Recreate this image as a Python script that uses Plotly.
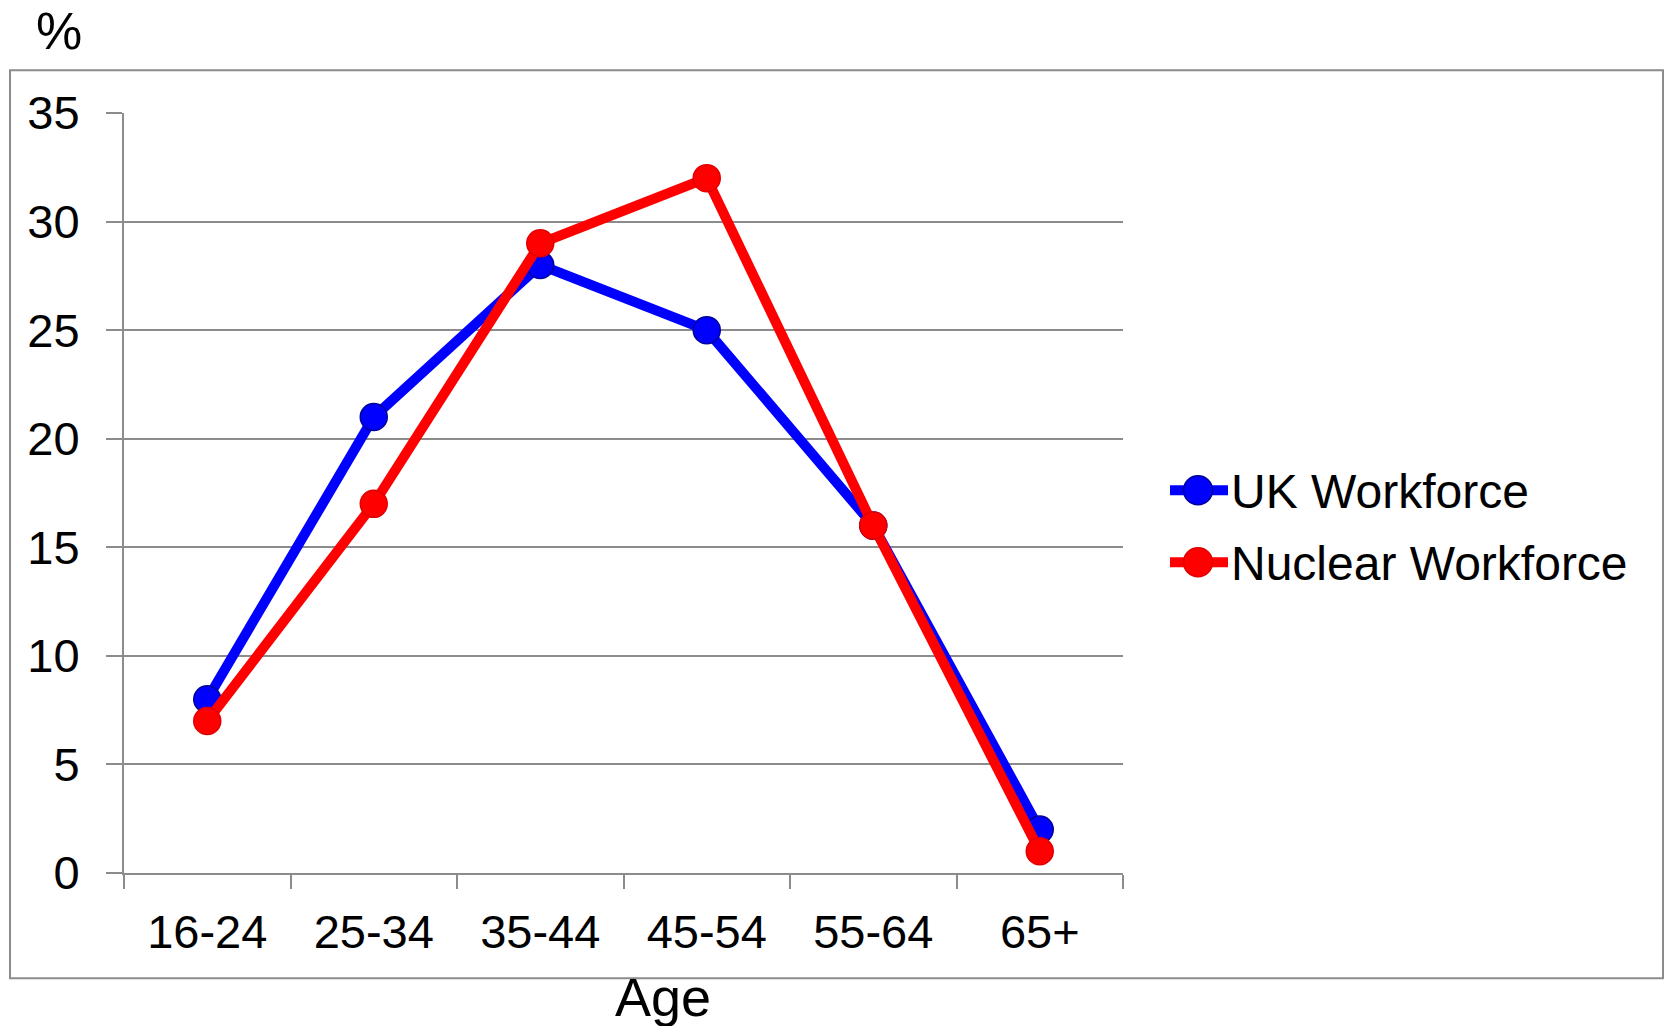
import plotly.graph_objects as go

categories = ["16-24", "25-34", "35-44", "45-54", "55-64", "65+"]
uk_workforce = [8, 21, 28, 25, 16, 2]
nuclear_workforce = [7, 17, 29, 32, 16, 1]
y_ticks = [0, 5, 10, 15, 20, 25, 30, 35]
series_names = ["UK Workforce", "Nuclear Workforce"]

W, H = 1666, 1026
L, R = 124, 1123
T, B = 112.7, 872.7

def px(x):
    return (x - L) / (R - L)

def py(y):
    return (B - y) / (B - T)

FONT = "Liberation Sans, Arial, sans-serif"
GRID = "#8c8c8c"
BLUE, BLUE_EDGE = "#0000ff", "#00009a"
RED, RED_EDGE = "#ff0000", "#e00000"
LINE_W = 10
MARKER = 27

fig = go.Figure()
fig.add_trace(go.Scatter(
    x=categories, y=uk_workforce, name=series_names[0], mode="lines+markers",
    line=dict(color=BLUE, width=LINE_W),
    marker=dict(size=MARKER, color=BLUE, line=dict(color=BLUE_EDGE, width=1.5)),
    showlegend=False,
))
fig.add_trace(go.Scatter(
    x=categories, y=nuclear_workforce, name=series_names[1], mode="lines+markers",
    line=dict(color=RED, width=LINE_W),
    marker=dict(size=MARKER, color=RED, line=dict(color=RED_EDGE, width=1.5)),
    showlegend=False,
))

shapes = [dict(type="rect", xref="paper", yref="paper",
               x0=px(10), x1=px(1663), y0=py(978), y1=py(70),
               line=dict(color=GRID, width=2), fillcolor="rgba(0,0,0,0)", layer="below")]
annotations = [
    dict(text="Age", xref="paper", yref="paper", x=px(663), y=py(997),
         xanchor="center", yanchor="middle", showarrow=False,
         font=dict(size=54, family=FONT, color="black")),
    dict(text="%", xref="paper", yref="paper", x=px(59), y=py(31),
         xanchor="center", yanchor="middle", showarrow=False,
         font=dict(size=52, family=FONT, color="black")),
]

# legend drawn by hand so the symbol keeps the chart's line/marker size
legend_rows = [(490, BLUE, BLUE_EDGE), (562, RED, RED_EDGE)]
for name, (ry, col, edge) in zip(series_names, legend_rows):
    shapes.append(dict(type="line", xref="paper", yref="paper",
                       x0=px(1170), x1=px(1228), y0=py(ry), y1=py(ry),
                       line=dict(color=col, width=LINE_W)))
    r = 14.5
    shapes.append(dict(type="circle", xref="paper", yref="paper",
                       x0=px(1198 - r), x1=px(1198 + r), y0=py(ry + r), y1=py(ry - r),
                       fillcolor=col, line=dict(color=edge, width=1.5)))
    annotations.append(dict(text=name, xref="paper", yref="paper",
                            x=px(1229), y=py(ry + 1), xanchor="left", yanchor="middle",
                            showarrow=False,
                            font=dict(size=48, family=FONT, color="black")))

fig.update_layout(
    width=W, height=H,
    margin=dict(l=L, r=W - R, t=T, b=H - B, autoexpand=False),
    paper_bgcolor="white", plot_bgcolor="white",
    font=dict(family=FONT, color="black", size=47),
    showlegend=False,
    xaxis=dict(
        type="category", range=[-0.5, 5.5], tickson="boundaries",
        ticks="outside", ticklen=14, tickwidth=2, tickcolor=GRID,
        showline=True, linecolor=GRID, linewidth=2,
        showgrid=False, zeroline=False,
        tickfont=dict(size=47, family=FONT, color="black"),
        ticklabelstandoff=17,
    ),
    yaxis=dict(
        range=[0, 35], tickvals=y_ticks, ticktext=[str(v) for v in y_ticks],
        ticks="outside", ticklen=16, tickwidth=2, tickcolor=GRID,
        showline=True, linecolor=GRID, linewidth=2,
        showgrid=True, gridcolor=GRID, gridwidth=2, zeroline=False,
        tickfont=dict(size=47, family=FONT, color="black"),
        ticklabelstandoff=17,
    ),
    shapes=shapes,
    annotations=annotations,
)

fig.write_html("out.html", config={"displayModeBar": False},
               post_script="document.body.style.margin='0px';")
